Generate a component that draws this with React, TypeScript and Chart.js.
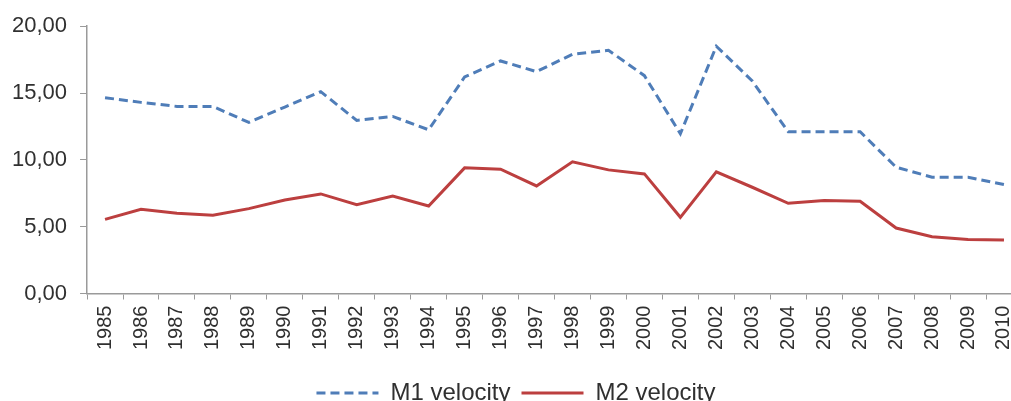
import { useEffect, useRef } from "react"
import { Chart, registerables } from "chart.js"

Chart.register(...registerables)

const years = [
  "1985", "1986", "1987", "1988", "1989", "1990", "1991", "1992", "1993",
  "1994", "1995", "1996", "1997", "1998", "1999", "2000", "2001", "2002",
  "2003", "2004", "2005", "2006", "2007", "2008", "2009", "2010",
]

const m1Velocity = [
  14.65, 14.3, 14.0, 14.0, 12.8, 13.95, 15.1, 12.95, 13.25, 12.25, 16.2, 17.4,
  16.6, 17.9, 18.2, 16.3, 11.95, 18.5, 15.9, 12.1, 12.1, 12.1, 9.45, 8.7, 8.7,
  8.15,
]

const m2Velocity = [
  5.55, 6.3, 6.0, 5.85, 6.35, 7.0, 7.45, 6.65, 7.3, 6.55, 9.4, 9.3, 8.05, 9.85,
  9.25, 8.95, 5.7, 9.1, 7.95, 6.75, 6.95, 6.9, 4.9, 4.25, 4.05, 4.0,
]

const dashes = [[9, 5], []]

// the source image cuts the plot off on the right, so the canvas is wider than the frame
export default function App() {
  const chartRef = useRef<HTMLCanvasElement>(null)
  const chartInstance = useRef<Chart | null>(null)

  useEffect(() => {
    if (!chartRef.current) return
    const ctx = chartRef.current.getContext("2d")
    if (!ctx) return

    chartInstance.current = new Chart(ctx, {
      type: "line",
      data: {
        labels: years,
        datasets: [
          {
            label: "M1 velocity",
            data: m1Velocity,
            borderColor: "#4F7DB8",
            backgroundColor: "#4F7DB8",
            borderWidth: 3,
            borderDash: dashes[0],
            pointRadius: 0,
            tension: 0,
          },
          {
            label: "M2 velocity",
            data: m2Velocity,
            borderColor: "#BC3F3F",
            backgroundColor: "#BC3F3F",
            borderWidth: 3,
            pointRadius: 0,
            tension: 0,
          },
        ],
      },
      options: {
        animation: false,
        responsive: false,
        layout: { padding: { top: 25, right: 1, left: -1, bottom: -14 } },
        plugins: {
          legend: {
            position: "bottom",
            labels: {
              color: "#303030",
              font: { family: "Liberation Sans", size: 24 },
              usePointStyle: true,
              pointStyle: "line",
              pointStyleWidth: 62,
              padding: 11,
              generateLabels: (chart) =>
                Chart.defaults.plugins.legend.labels.generateLabels(chart).map((item, i) => ({
                  ...item,
                  lineDash: dashes[i],
                  lineWidth: 3,
                  strokeStyle: chart.data.datasets[i].borderColor as string,
                })),
            },
          },
          tooltip: { enabled: false },
        },
        scales: {
          x: {
            offset: true,
            afterFit: (scale) => {
              scale.height += 14
            },
            grid: {
              offset: true,
              drawOnChartArea: false,
              drawTicks: true,
              tickLength: 6,
              color: "#9a9a9a",
            },
            border: { display: true, color: "#9a9a9a", width: 1.5 },
            ticks: {
              color: "#303030",
              font: { family: "Liberation Sans", size: 20 },
              minRotation: 90,
              maxRotation: 90,
              autoSkip: false,
              padding: 6,
            },
          },
          y: {
            min: 0,
            max: 20,
            grid: {
              drawOnChartArea: false,
              drawTicks: true,
              tickLength: 7,
              color: "#9a9a9a",
            },
            border: { display: true, color: "#9a9a9a", width: 1.5 },
            ticks: {
              stepSize: 5,
              color: "#303030",
              font: { family: "Liberation Sans", size: 22 },
              padding: 13,
              callback: (v) => Number(v).toFixed(2).replace(".", ","),
            },
          },
        },
      },
    })

    return () => {
      chartInstance.current?.destroy()
    }
  }, [])

  return (
    <div style={{ position: "fixed", left: 0, top: 0, width: 1011, height: 401, overflow: "hidden", background: "#fff" }}>
      <canvas ref={chartRef} width={1034} height={401} />
    </div>
  )
}
